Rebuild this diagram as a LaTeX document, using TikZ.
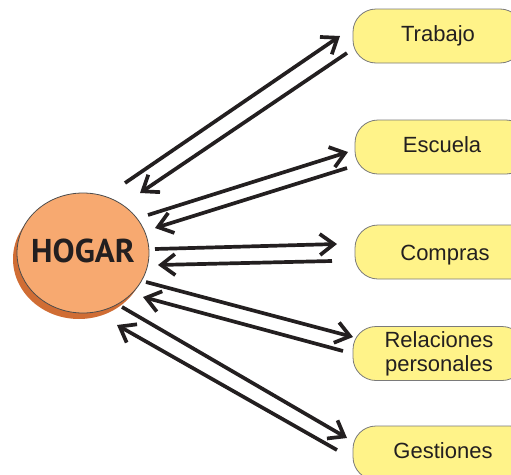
\documentclass[tikz,border=0pt]{standalone}
\usepackage{fontspec}
\setmainfont{Liberation Sans}
\newfontfamily\hogarfont{PT Sans}
\usetikzlibrary{arrows.meta,shapes.geometric}
\definecolor{boxfill}{HTML}{FFF389}
\definecolor{boxline}{HTML}{7A7A7A}
\definecolor{hogarfill}{HTML}{F7A970}
\definecolor{hogarshadow}{HTML}{D06D34}
\definecolor{ink}{HTML}{231F20}
\begin{document}
\begin{tikzpicture}[x=1pt,y=-1pt,
  boxnode/.style={draw=boxline, line width=0.8pt, fill=boxfill, rounded corners=23pt,
    minimum height=54pt, inner sep=0pt, text=ink,
    font=\fontsize{22}{24}\selectfont, text height=16pt, text depth=5pt},
  flow/.style={draw=ink, line width=3.7pt, -{Straight Barb[length=14pt,width=21pt]}}
]
\useasboundingbox (0,0) rectangle (511,474);
\clip (0,0) rectangle (511,474);

% HOGAR
\node[ellipse, fill=hogarshadow, minimum width=132pt, minimum height=120pt, inner sep=0pt] (hogarsh) at (79,259) {};
\node[ellipse, draw=black!70, line width=0.8pt, fill=hogarfill, minimum width=132pt, minimum height=120pt, inner sep=0pt,
  label={[font=\hogarfont\bfseries\fontsize{33}{35}\selectfont, text=ink, text height=23pt, text depth=5pt, inner sep=0pt]center:HOGAR}] (hogar) at (83,253) {};

% boxes
\node[boxnode, minimum width=170pt] (trabajo) at (438,36) {Trabajo};
\node[boxnode, minimum width=174pt] (escuela) at (442,147) {Escuela};
\node[boxnode, minimum width=180pt, text depth=0pt] (compras) at (445,252) {Compras};
\node[boxnode, minimum width=172pt, align=center, text height=, text depth=] (relaciones) at (439,353.5) {Relaciones\\personales};
\node[boxnode, minimum width=180pt] (gestiones) at (443,453) {Gestiones};

% arrow ends
\coordinate (a1s) at (125,183); \coordinate (a1e) at (340,36);
\coordinate (b1s) at (347,53);  \coordinate (b1e) at (140,193);
\coordinate (a2s) at (148,215); \coordinate (a2e) at (348,152);
\coordinate (b2s) at (347,168); \coordinate (b2e) at (155,228);
\coordinate (a3s) at (155,249); \coordinate (a3e) at (337,244);
\coordinate (b3s) at (332,261); \coordinate (b3e) at (158,265);
\coordinate (a4s) at (146,282); \coordinate (a4e) at (353,337);
\coordinate (b4s) at (343,351); \coordinate (b4e) at (143,297);
\coordinate (a5s) at (122,307); \coordinate (a5e) at (347,438);
\coordinate (b5s) at (337,450); \coordinate (b5e) at (117,325);

\draw[flow] (a1s) -- (a1e);
\draw[flow] (b1s) -- (b1e);
\draw[flow] (a2s) -- (a2e);
\draw[flow] (b2s) -- (b2e);
\draw[flow] (a3s) -- (a3e);
\draw[flow] (b3s) -- (b3e);
\draw[flow] (a4s) -- (a4e);
\draw[flow] (b4s) -- (b4e);
\draw[flow] (a5s) -- (a5e);
\draw[flow] (b5s) -- (b5e);
\end{tikzpicture}
\end{document}
